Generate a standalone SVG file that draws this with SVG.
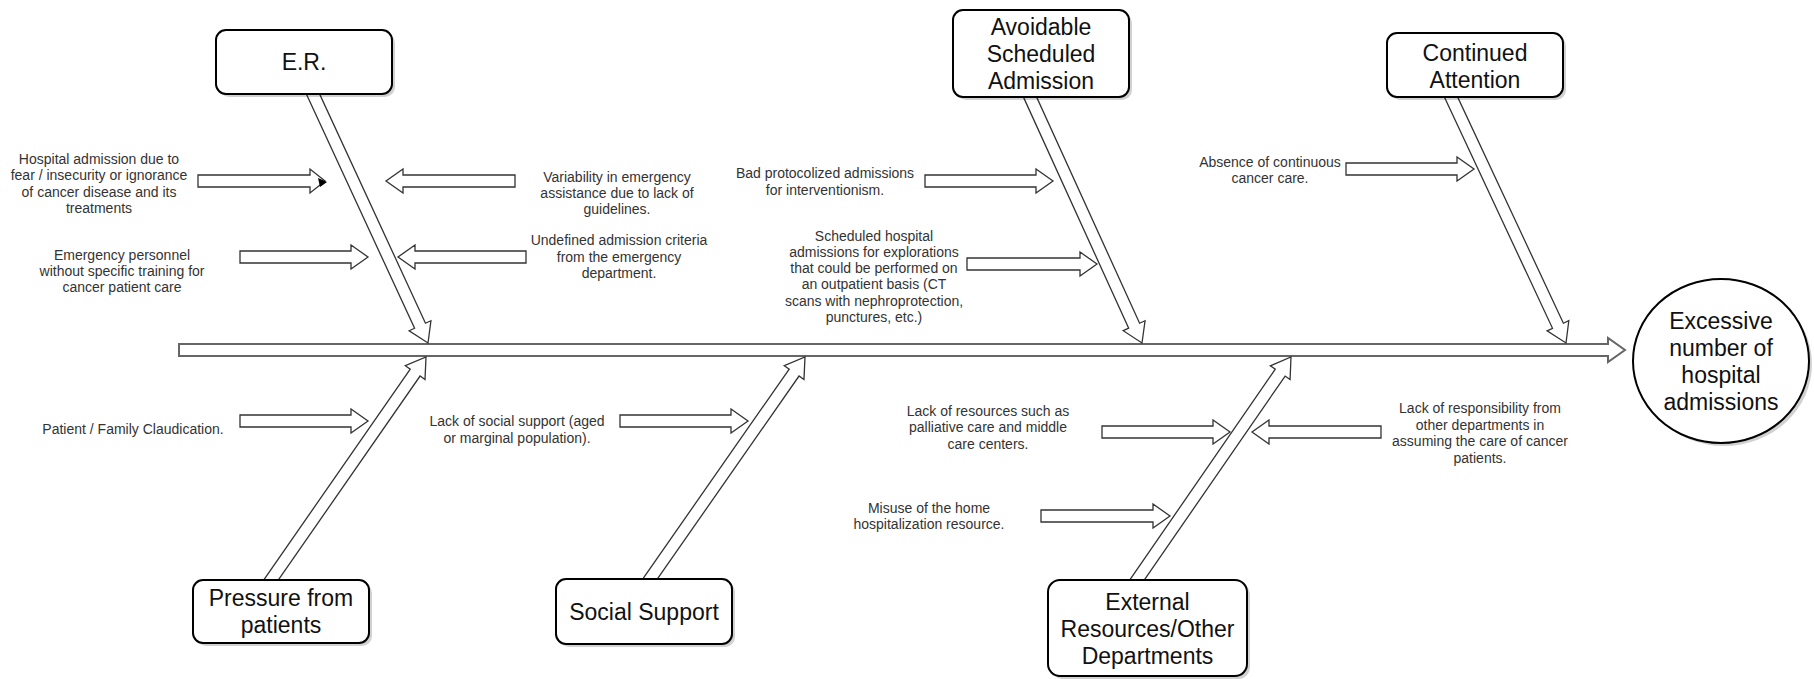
<svg xmlns="http://www.w3.org/2000/svg" width="1814" height="679" viewBox="0 0 1814 679">
<style>
.bg{fill:#ffffff}
.arr{fill:#ffffff;stroke:#333333;stroke-width:1.3;stroke-linejoin:miter}
.spine{fill:#ffffff;stroke:#666666;stroke-width:2}
.box{fill:#ffffff;stroke:#000000;stroke-width:2}
.shadow{fill:#000000;opacity:0.18}
.lbl{font-family:"Liberation Sans",Arial,sans-serif;font-size:23px;fill:#111111;text-anchor:middle}
.sm{font-family:"Liberation Sans",Arial,sans-serif;font-size:14px;fill:#333333;text-anchor:middle}
</style>
<rect class="bg" x="0" y="0" width="1814" height="679"/>
<g id="connectors">
  <polygon class="spine" points="179,344 1608,344 1608,338 1625,350 1608,362 1608,356 179,356"/>
  <polygon id="bone-er" class="arr" points="303.35,87.43 414.58,328.27 409.14,330.78 428,343 430.93,320.72 425.48,323.23 314.25,82.38"/>
  <polygon id="bone-avoidable" class="arr" points="1020.40,90.39 1128.67,328.20 1123.21,330.68 1142,343 1145.05,320.74 1139.59,323.22 1031.32,85.41"/>
  <polygon id="bone-continued" class="arr" points="1441.33,90.48 1552.52,328.33 1547.08,330.87 1566,343 1568.82,320.71 1563.39,323.25 1452.20,85.40"/>
  <polygon id="bone-pressure" class="arr" points="270.22,591.63 420.09,376.02 425.01,379.45 426,357 405.31,365.75 410.23,369.18 260.36,584.79"/>
  <polygon id="bone-social" class="arr" points="649.20,590.63 799.04,376.01 803.96,379.45 805,357 784.28,365.71 789.20,369.14 639.36,583.76"/>
  <polygon id="bone-external" class="arr" points="1136.26,591.64 1285.14,376.04 1290.07,379.45 1291,357 1270.33,365.81 1275.26,369.22 1126.38,584.82"/>
  <!-- right-pointing cause arrows -->
  <polygon class="arr" points="198,175 310,175 310,169 325,181 310,193 310,187 198,187"/>
  <polygon fill="#000000" points="318,178 327,182 320,187"/>
  <polygon class="arr" points="240,251 351,251 351,245 368,257 351,269 351,263 240,263"/>
  <polygon class="arr" points="925,175 1036,175 1036,169 1053,181 1036,193 1036,187 925,187"/>
  <polygon class="arr" points="967,258 1080,258 1080,252 1097,264 1080,276 1080,270 967,270"/>
  <polygon class="arr" points="1346,163 1457,163 1457,157 1474,169 1457,181 1457,175 1346,175"/>
  <polygon class="arr" points="240,415 351,415 351,409 368,421 351,433 351,427 240,427"/>
  <polygon class="arr" points="620,415 731,415 731,409 748,421 731,433 731,427 620,427"/>
  <polygon class="arr" points="1102,426 1213,426 1213,420 1230,432 1213,444 1213,438 1102,438"/>
  <polygon class="arr" points="1041,510 1153,510 1153,504 1170,516 1153,528 1153,522 1041,522"/>
  <!-- left-pointing cause arrows -->
  <polygon class="arr" points="515,175 403,175 403,169 386,181 403,193 403,187 515,187"/>
  <polygon class="arr" points="526,251 415,251 415,245 398,257 415,269 415,263 526,263"/>
  <polygon class="arr" points="1381,426 1269,426 1269,420 1252,432 1269,444 1269,438 1381,438"/>
</g>
<g id="node-er">
  <rect class="shadow" x="219" y="33" width="176" height="64" rx="10"/>
  <rect class="box" x="216" y="30" width="176" height="64" rx="10"/>
  <text class="lbl" x="304" y="70">E.R.</text>
</g>
<g id="node-avoidable">
  <rect class="shadow" x="956" y="13" width="176" height="87" rx="10"/>
  <rect class="box" x="953" y="10" width="176" height="87" rx="10"/>
  <text class="lbl" x="1041" y="35">Avoidable</text>
  <text class="lbl" x="1041" y="62">Scheduled</text>
  <text class="lbl" x="1041" y="89">Admission</text>
</g>
<g id="node-continued">
  <rect class="shadow" x="1390" y="36" width="176" height="64" rx="10"/>
  <rect class="box" x="1387" y="33" width="176" height="64" rx="10"/>
  <text class="lbl" x="1475" y="61">Continued</text>
  <text class="lbl" x="1475" y="88">Attention</text>
</g>
<g id="node-pressure">
  <rect class="shadow" x="196" y="583" width="176" height="63" rx="10"/>
  <rect class="box" x="193" y="580" width="176" height="63" rx="10"/>
  <text class="lbl" x="281" y="606">Pressure from</text>
  <text class="lbl" x="281" y="633">patients</text>
</g>
<g id="node-social">
  <rect class="shadow" x="559" y="582" width="176" height="65" rx="10"/>
  <rect class="box" x="556" y="579" width="176" height="65" rx="10"/>
  <text class="lbl" x="644" y="620">Social Support</text>
</g>
<g id="node-external">
  <rect class="shadow" x="1051" y="583" width="199" height="96" rx="12"/>
  <rect class="box" x="1048" y="580" width="199" height="96" rx="12"/>
  <text class="lbl" x="1147.5" y="610">External</text>
  <text class="lbl" x="1147.5" y="637">Resources/Other</text>
  <text class="lbl" x="1147.5" y="664">Departments</text>
</g>
<g id="node-effect">
  <ellipse class="shadow" cx="1724" cy="364" rx="88" ry="82"/>
  <ellipse class="box" cx="1721" cy="361" rx="88" ry="82"/>
  <text class="lbl" x="1721" y="329">Excessive</text>
  <text class="lbl" x="1721" y="356">number of</text>
  <text class="lbl" x="1721" y="383">hospital</text>
  <text class="lbl" x="1721" y="410">admissions</text>
</g>
<g id="cause-labels">
  <text class="sm" x="99" y="164">Hospital admission due to</text>
  <text class="sm" x="99" y="180.3">fear / insecurity or ignorance</text>
  <text class="sm" x="99" y="196.6">of cancer disease and its</text>
  <text class="sm" x="99" y="212.9">treatments</text>
  <text class="sm" x="617" y="182">Variability in emergency</text>
  <text class="sm" x="617" y="198">assistance due to lack of</text>
  <text class="sm" x="617" y="214">guidelines.</text>
  <text class="sm" x="122" y="260">Emergency personnel</text>
  <text class="sm" x="122" y="276">without specific training for</text>
  <text class="sm" x="122" y="292">cancer patient care</text>
  <text class="sm" x="619" y="245">Undefined admission criteria</text>
  <text class="sm" x="619" y="262">from the emergency</text>
  <text class="sm" x="619" y="278">department.</text>
  <text class="sm" x="825" y="178">Bad protocolized admissions</text>
  <text class="sm" x="825" y="195">for interventionism.</text>
  <text class="sm" x="874" y="241">Scheduled hospital</text>
  <text class="sm" x="874" y="257">admissions for explorations</text>
  <text class="sm" x="874" y="273">that could be performed on</text>
  <text class="sm" x="874" y="289">an outpatient basis (CT</text>
  <text class="sm" x="874" y="306">scans with nephroprotection,</text>
  <text class="sm" x="874" y="322">punctures, etc.)</text>
  <text class="sm" x="1270" y="167">Absence of continuous</text>
  <text class="sm" x="1270" y="183">cancer care.</text>
  <text class="sm" x="133" y="434">Patient / Family Claudication.</text>
  <text class="sm" x="517" y="426">Lack of social support (aged</text>
  <text class="sm" x="517" y="443">or marginal population).</text>
  <text class="sm" x="988" y="416">Lack of resources such as</text>
  <text class="sm" x="988" y="432">palliative care and middle</text>
  <text class="sm" x="988" y="449">care centers.</text>
  <text class="sm" x="929" y="513">Misuse of the home</text>
  <text class="sm" x="929" y="529">hospitalization resource.</text>
  <text class="sm" x="1480" y="413">Lack of responsibility from</text>
  <text class="sm" x="1480" y="430">other departments in</text>
  <text class="sm" x="1480" y="446">assuming the care of cancer</text>
  <text class="sm" x="1480" y="463">patients.</text>
</g>
</svg>
